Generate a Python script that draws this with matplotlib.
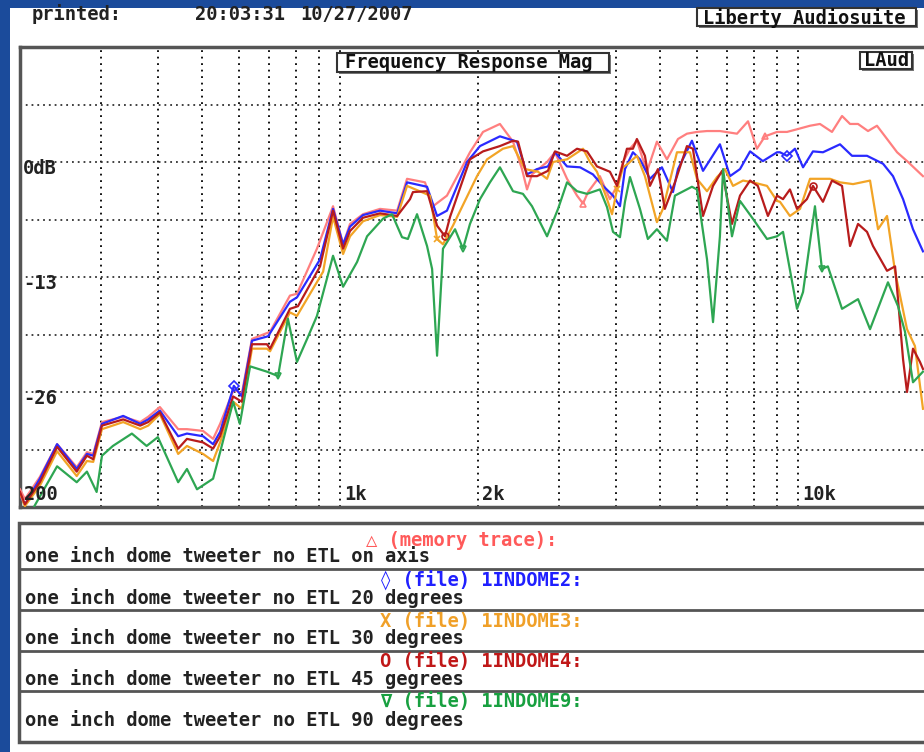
import matplotlib
matplotlib.use("Agg")
import matplotlib.pyplot as plt
from matplotlib.patches import Rectangle

# ---- data (Hz, dB) ----
PINK_F = [200, 205, 221, 241, 266, 280, 289, 302, 336, 366, 381, 404, 443, 463, 502,
          528, 547, 586, 610, 642, 703, 777, 805, 890, 965, 1015, 1051, 1122, 1222,
          1332, 1400, 1532, 1595, 1711, 1921, 2051, 2233, 2385, 2495, 2559, 2624, 2830,
          2945, 3129, 3290, 3391, 3477, 3691, 3882, 4023, 4145, 4294, 4446, 4676, 4917,
          5171, 5466, 5718, 6012, 6325, 6749, 7354, 7773, 8128, 8465, 8994, 9456, 9945,
          10617, 11160, 11855, 12470, 12982, 13514, 14210, 14864, 15480, 16447, 17378, 18732]
PINK_DB = [-37.0, -38.1, -35.6, -31.9, -34.5, -32.8, -33.0, -29.4, -28.8, -29.4, -28.8, -27.7, -30.2, -30.2, -30.4,
           -31.3, -29.6, -25.7, -26.2, -20.0, -19.2, -15.1, -14.9, -9.8, -5.0, -9.3, -7.0, -5.9, -5.3,
           -5.5, -1.9, -2.3, -5.0, -3.8, 1.1, 3.4, 4.3, 2.3, -0.8, -3.1, -1.4, 0.0,
           1.1, -1.9, -3.8, -4.7, -3.4, -1.6, -4.2, -2.7, 0.0, 1.5, 2.4, -1.1, 2.3,
           0.3, 2.6, 3.2, 3.4, 3.5, 3.5, 3.2, 4.6, 1.5, 2.9, 3.4, 3.4, 3.7,
           4.1, 4.3, 3.4, 5.2, 4.3, 4.3, 3.5, 4.1, 2.9, 1.1, 0.0, -1.6]

BLUE_F = [200, 205, 221, 241, 266, 280, 289, 302, 336, 366, 381, 404, 443, 463, 502,
          528, 547, 586, 610, 642, 696, 777, 805, 904, 965, 1015, 1051, 1122, 1222,
          1332, 1400, 1548, 1628, 1711, 1893, 2020, 2233, 2433, 2559, 2691, 2843, 2945,
          3129, 3341, 3564, 3750, 3943, 4083, 4187, 4358, 4515, 4747, 5042, 5330, 5466,
          5863, 6199, 6487, 6749, 7099, 7466, 7854, 8375, 8994, 9128, 9456, 9843, 10250,
          10774, 11330, 12344, 13113, 14139, 15327, 16112, 16947, 17816, 18732]
BLUE_DB = [-37.8, -38.7, -35.8, -31.9, -34.7, -33.0, -33.2, -29.6, -28.7, -29.6, -29.1, -28.1, -31.0, -30.7, -31.0,
           -31.9, -30.5, -25.3, -26.5, -20.2, -19.7, -15.8, -15.3, -11.0, -5.3, -9.3, -7.3, -6.0, -5.5,
           -5.8, -2.3, -2.8, -6.1, -5.5, 0.0, 1.8, 2.9, 2.3, -1.4, -0.8, -0.5, 1.1,
           -0.5, -0.6, -1.4, -2.7, -3.8, -5.0, -0.8, 1.1, 0.3, -1.9, -0.6, -3.4, -0.8,
           2.4, -1.0, 0.6, 2.0, -1.6, -0.8, 1.2, 0.1, 1.1, 1.1, 0.7, 1.5, -0.6,
           1.2, 1.1, 2.0, 0.7, 0.7, -0.2, -1.6, -4.2, -7.6, -10.1]

ORANGE_F = [200, 205, 221, 241, 266, 280, 289, 302, 336, 366, 381, 404, 443, 463, 502,
            528, 547, 584, 610, 642, 692, 703, 777, 805, 918, 965, 1015, 1051, 1122,
            1222, 1332, 1400, 1571, 1628, 1677, 1763, 1990, 2093, 2267, 2385, 2533, 2704,
            2830, 2916, 3129, 3391, 3511, 3637, 3826, 3923, 4023, 4145, 4250, 4446, 4629,
            4917, 5068, 5438, 5806, 6012, 6325, 6652, 6920, 7208, 7581, 7962, 8551, 8994,
            9128, 9596, 10096, 10617, 11736, 12344, 13180, 14356, 14945, 15636, 16280, 17288,
            17989, 18732]
ORANGE_DB = [-37.5, -38.9, -36.6, -32.7, -35.5, -33.8, -33.9, -30.2, -29.4, -30.2, -29.8, -28.5, -33.0, -32.1, -33.0,
             -33.8, -31.7, -27.1, -27.9, -21.1, -21.1, -21.4, -17.0, -17.4, -12.4, -6.2, -10.4, -8.4, -6.7,
             -6.0, -6.2, -2.7, -3.8, -8.7, -9.3, -7.2, -1.6, 0.3, 1.5, 1.8, -0.8, -1.1,
             -1.9, 0.0, 0.3, 1.5, 0.0, -1.1, -4.2, -5.9, -3.1, -0.6, -0.2, 0.7, -1.6,
             -6.8, -5.3, 1.1, 1.1, -1.9, -3.3, -1.7, -0.8, -2.7, -2.1, -2.3, -2.7, -4.4,
             -4.5, -6.1, -5.3, -1.9, -1.9, -2.3, -2.5, -2.1, -7.6, -6.1, -12.4, -18.9,
             -20.8, -27.9]

DARKRED_F = [200, 205, 221, 241, 266, 280, 289, 302, 336, 366, 381, 404, 443, 463, 502,
             528, 547, 584, 610, 642, 692, 703, 777, 809, 904, 965, 1015, 1051, 1122,
             1222, 1332, 1421, 1442, 1548, 1628, 1694, 1738, 1921, 2051, 2233, 2385, 2446,
             2559, 2691, 2843, 2945, 3129, 3290, 3460, 3637, 3882, 4023, 4229, 4358, 4446,
             4629, 4747, 4942, 5116, 5383, 5718, 5892, 6199, 6519, 6823, 7171, 7466, 7854,
             8165, 8591, 8994, 9268, 9596, 9945, 10450, 10774, 11330, 11855, 12470, 12982,
             13514, 14139, 14571, 15636, 16280, 16523, 16947, 17288, 17816, 18451, 18732]
DARKRED_DB = [-37.3, -38.7, -36.2, -32.2, -35.0, -33.2, -33.6, -29.8, -29.1, -29.8, -29.4, -28.3, -32.4, -31.3, -31.7,
              -32.4, -31.0, -26.5, -27.1, -20.6, -20.6, -21.1, -16.6, -16.3, -11.8, -5.5, -9.8, -7.8, -6.3,
              -5.8, -6.1, -4.2, -3.4, -3.3, -7.2, -8.4, -6.2, 0.3, 1.2, 1.8, 2.4, 2.3,
              -1.6, -1.6, -1.0, 1.2, 0.7, 1.5, 1.2, -0.5, -1.1, -2.7, 1.5, 1.5, 2.6,
              0.7, -2.7, -0.8, -5.3, -2.3, 1.8, 1.5, -6.1, -2.7, -1.0, -7.0, -3.8, -2.1,
              -2.7, -6.1, -3.8, -4.2, -3.1, -5.3, -4.2, -2.7, -4.5, -2.1, -2.7, -9.5,
              -7.0, -7.9, -9.5, -12.3, -11.8, -15.5, -22.3, -26.0, -21.1, -22.6, -23.4]

GREEN_F = [215, 241, 266, 280, 294, 302, 319, 351, 378, 400, 443, 463, 487, 528, 547,
           584, 604, 636, 692, 732, 769, 805, 847, 890, 965, 1015, 1089, 1145, 1241,
           1298, 1365, 1406, 1472, 1548, 1588, 1628, 1669, 1677, 1782, 1855, 1921, 2020,
           2124, 2233, 2385, 2507, 2624, 2830, 2991, 3129, 3290, 3460, 3691, 3826, 3943,
           4083, 4187, 4294, 4515, 4698, 4917, 5171, 5383, 5863, 6012, 6325, 6519, 6749,
           6857, 7171, 7466, 7962, 8551, 8994, 9268, 9945, 10250, 10883, 11272, 11613,
           12470, 13514, 14356, 15709, 16523, 17116, 17816, 18732]
GREEN_DB = [-38.9, -34.4, -36.2, -35.0, -37.3, -33.2, -32.1, -30.7, -32.1, -31.1, -36.2, -34.7, -37.0, -35.8, -32.8,
            -27.1, -29.6, -23.1, -23.7, -24.2, -17.7, -22.6, -20.0, -17.4, -10.6, -14.1, -11.3, -8.4, -6.4,
            -5.9, -8.5, -8.7, -5.9, -9.5, -12.1, -21.9, -12.1, -9.8, -7.6, -9.8, -7.0, -4.2,
            -2.3, -0.6, -3.3, -3.6, -5.0, -8.4, -5.3, -2.3, -3.3, -3.6, -3.1, -5.1, -7.9,
            -8.5, -4.5, -1.7, -5.3, -8.7, -7.6, -8.9, -3.8, -2.8, -3.1, -11.0, -18.1, -8.4,
            -0.8, -8.4, -4.4, -6.4, -8.7, -8.4, -7.9, -16.6, -14.7, -5.0, -12.1, -11.8,
            -16.6, -15.5, -18.9, -13.6, -16.3, -19.2, -24.9, -23.7]

SERIES = [
    (PINK_F, PINK_DB, "#ff7f7f", "^", [3391, 8465]),
    (BLUE_F, BLUE_DB, "#2a2aff", "D", [586, 9456]),
    (ORANGE_F, ORANGE_DB, "#f2a426", "x", [1628, 4023]),
    (DARKRED_F, DARKRED_DB, "#b81c1c", "o", [1694, 10774]),
    (GREEN_F, GREEN_DB, "#2ea652", "v", [732, 1855, 11272]),
]

GRID_F = [300, 400, 500, 600, 700, 800, 900, 1000, 2000, 3000, 4000, 5000,
          6000, 7000, 8000, 9000, 10000]
GRID_DB = [6.5, 0, -6.5, -13, -19.5, -26, -32.5]
DB_LABELS = [(0, "0dB"), (-13, "-13"), (-26, "-26")]
F_LABELS = [(200, "200"), (1000, "1k"), (2000, "2k"), (10000, "10k")]

LEGEND_HEAD = ["\u25b3 (memory trace):", "\u25ca (file) 1INDOME2:", "X (file) 1INDOME3:",
               "O (file) 1INDOME4:", "\u2207 (file) 1INDOME9:"]
LEGEND_BODY = ["one inch dome tweeter no ETL on axis",
               "one inch dome tweeter no ETL 20 degrees",
               "one inch dome tweeter no ETL 30 degrees",
               "one inch dome tweeter no ETL 45 gegrees",
               "one inch dome tweeter no ETL 90 degrees"]
HEAD_COLORS = ["#ff5a5a", "#2020ff", "#f0a028", "#c01818", "#18a040"]

FONT = ["DejaVu Sans Mono", "DejaVu Sans"]
FS = 13.5
W, H = 924, 752

fig = plt.figure(figsize=(W / 100, H / 100), dpi=100, facecolor="#1b4b9b")

# background layer (pixel coordinates, y down)
bg = fig.add_axes([0, 0, 1, 1], zorder=0)
bg.set_xlim(0, W); bg.set_ylim(H, 0); bg.axis("off")
bg.add_patch(Rectangle((10, 8), W, H, facecolor="white", edgecolor="none"))

# --- plot ---
ax = fig.add_axes([20 / W, (H - 507) / H, 916 / W, 460 / H], zorder=1)
ax.set_facecolor("none")
ax.set_xscale("log")
ax.set_xlim(200, 20000)
ax.set_ylim(-39, 13)
ax.set_xticks([]); ax.set_yticks([])
ax.minorticks_off()
for s in ax.spines.values():
    s.set_color("#555555"); s.set_linewidth(2.5)

for f in GRID_F:
    ax.axvline(f, color="black", lw=1.3, ls=(0, (1, 2.6)), zorder=1)
for d in GRID_DB:
    ax.axhline(d, color="#333333", lw=1.3, ls=(0, (1, 2.2)), zorder=1)

for fr, db, col, mk, marks in SERIES:
    ax.plot(fr, db, color=col, lw=1.6, zorder=3,
            marker=mk, markevery=[fr.index(m) for m in marks],
            ms=5, mfc="none", mec=col, mew=1.2)

for d, lab in DB_LABELS:
    ax.text(203, d - 0.7, lab, family=FONT, weight="bold", fontsize=FS,
            color="#222222", ha="left", va="center", zorder=4)
for f, lab in F_LABELS:
    ax.text(f * 1.02, -37.6, lab, family=FONT, weight="bold", fontsize=FS,
            color="#222222", ha="left", va="center", zorder=4)

# --- overlay: header, boxes, legend panel ---
top = fig.add_axes([0, 0, 1, 1], zorder=2)
top.set_xlim(0, W); top.set_ylim(H, 0); top.axis("off")
top.patch.set_alpha(0)

tkw = dict(family=FONT, weight="bold", fontsize=FS, va="center", ha="left")
top.text(32, 14, "printed:", color="#222222", **tkw)
top.text(195, 14, "20:03:31", color="#222222", **tkw)
top.text(300, 14, "10/27/2007", color="#222222", **tkw)

def box(x, y, w, h, label, tx):
    top.add_patch(Rectangle((x + 2, y + 2), w, h, facecolor="#777777", edgecolor="none"))
    top.add_patch(Rectangle((x, y), w, h, facecolor="white", edgecolor="#333333", lw=1.5))
    top.text(tx, y + h / 2 + 0.5, label, color="#111111", **tkw)

box(697, 8, 219, 18, "Liberty Audiosuite", 703)
box(337, 53, 272, 19, "Frequency Response Mag", 345)
box(860, 52, 52, 17, "LAud", 864)

# legend panel
top.add_patch(Rectangle((19, 523), 920, 219, facecolor="white", edgecolor="#555555", lw=2.5))
for ys in [569, 610, 651, 691]:
    top.plot([19, 939], [ys, ys], color="#555555", lw=2)

head_y = [540, 580, 621, 661, 702]
body_y = [557, 598, 638, 679, 720]
head_x = [366, 380, 380, 380, 380]
for hx, hy, by, head, body, col in zip(head_x, head_y, body_y, LEGEND_HEAD, LEGEND_BODY, HEAD_COLORS):
    top.text(hx, hy, head, color=col, **tkw)
    top.text(25, by, body, color="#222222", **tkw)

fig.savefig("out.png", dpi=100, facecolor=fig.get_facecolor())
